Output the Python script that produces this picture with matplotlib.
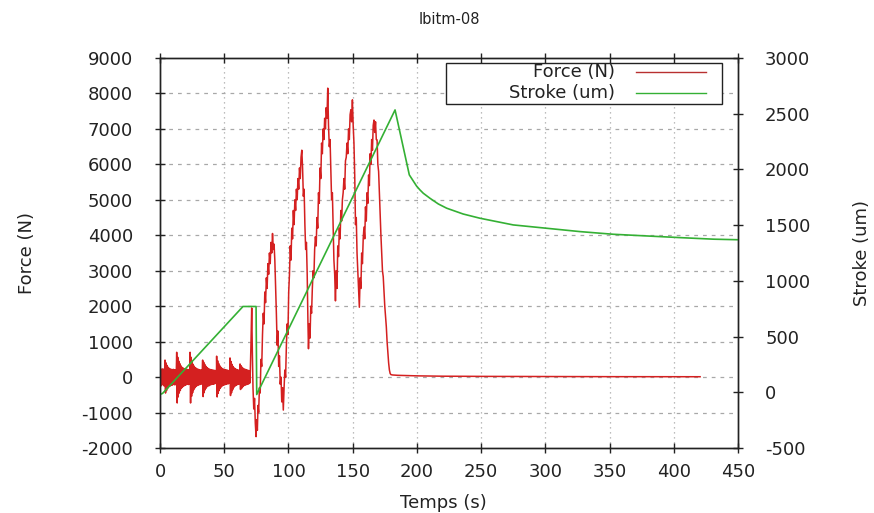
import matplotlib
matplotlib.use("Agg")
import matplotlib.pyplot as plt
from matplotlib.lines import Line2D
from matplotlib.patches import Rectangle

plt.rcParams['font.family'] = ['DejaVu Sans']
plt.rcParams['axes.unicode_minus'] = False

title = "lbitm-08"
x_label = "Temps (s)"
y_label = "Force (N)"
y2_label = "Stroke (um)"
force_name = "Force (N)"
stroke_name = "Stroke (um)"

x_ticks = [0, 50, 100, 150, 200, 250, 300, 350, 400, 450]
force_ticks = [-2000, -1000, 0, 1000, 2000, 3000, 4000, 5000, 6000, 7000, 8000, 9000]
stroke_ticks = [-500, 0, 500, 1000, 1500, 2000, 2500, 3000]

force_pts = [
    (0, -150), (0.4, 250), (0.8, -250), (1.2, 200), (1.6, -220), (2, 230), (2.4, -200), (2.8, 220), (3.2, -250), (3.6, 200),
    (3.9, 480), (4.3, -450), (4.7, 400), (5.1, -380), (5.5, 330), (5.9, -320), (6.3, 280), (6.7, -280),
    (7.1, 250), (7.5, -260), (7.9, 230), (8.3, -240), (8.7, 220), (9.1, -230), (9.5, 210), (9.9, -220),
    (10.3, 220), (10.7, -200), (11.1, 210), (11.5, -220), (11.9, 200), (12.3, -210), (12.7, 180),
    (13, 700), (13.4, -730), (13.8, 560), (14.2, -560), (14.6, 450), (15, -450), (15.4, 380), (15.8, -380),
    (16.2, 320), (16.6, -320), (17, 280), (17.4, -290), (17.8, 260), (18.2, -260), (18.6, 240), (19, -240),
    (19.4, 230), (19.8, -230), (20.2, 220), (20.6, -210), (21, 220), (21.4, -200), (21.8, 210), (22.2, -210),
    (22.6, 200), (23, -190),
    (23.4, 700), (23.8, -730), (24.2, 560), (24.6, -540), (25, 440), (25.4, -440), (25.8, 360), (26.2, -360),
    (26.6, 310), (27, -310), (27.4, 270), (27.8, -270), (28.2, 250), (28.6, -250), (29, 230), (29.4, -230),
    (29.8, 220), (30.2, -220), (30.6, 210), (31, -210), (31.4, 200), (31.8, -200), (32.2, 200), (32.6, -190),
    (32.9, 150),
    (33.2, 480), (33.6, -550), (34, 420), (34.4, -440), (34.8, 360), (35.2, -360), (35.6, 310), (36, -310),
    (36.4, 270), (36.8, -270), (37.2, 250), (37.6, -250), (38, 230), (38.4, -240), (38.8, 220), (39.2, -220),
    (39.6, 210), (40, -210), (40.4, 200), (40.8, -200), (41.2, 200), (41.6, -200), (42, 190), (42.4, -190),
    (42.8, 190), (43.2, -180), (43.6, 180), (43.9, -170),
    (44.1, 590), (44.5, -560), (44.9, 460), (45.3, -460), (45.7, 380), (46.1, -380), (46.5, 320), (46.9, -320),
    (47.3, 280), (47.7, -280), (48.1, 250), (48.5, -250), (48.9, 230), (49.3, -230), (49.7, 220), (50.1, -220),
    (50.5, 210), (50.9, -210), (51.3, 200), (51.7, -200), (52.1, 200), (52.5, -190), (52.9, 190), (53.3, -190),
    (53.7, 180), (54.1, -170),
    (54.5, 540), (54.9, -520), (55.3, 440), (55.7, -440), (56.1, 360), (56.5, -360), (56.9, 300), (57.3, -300),
    (57.7, 260), (58.1, -260), (58.5, 240), (58.9, -240), (59.3, 220), (59.7, -220), (60.1, 210), (60.5, -210),
    (60.9, 200), (61.3, -200), (61.7, 190), (62, -180),
    (62.3, 370), (62.7, -350), (63.1, 320), (63.5, -320), (63.9, 280), (64.3, -280), (64.7, 250), (65.1, -250),
    (65.5, 230), (65.9, -230), (66.3, 220), (66.7, -220), (67.1, 210), (67.5, -210), (67.9, 200), (68.3, -200),
    (68.7, 190), (69.1, -190), (69.5, 180), (69.9, -170), (70.3, 150),
    (70.8, 900), (71.4, 1950), (71.9, 700), (72.4, -300), (73, -900), (73.6, -600), (74.2, -1300), (74.8, -1680),
    (75.3, -1200), (75.8, -1500), (76.3, -800), (76.8, -1000), (77.4, -300), (78, -450), (78.6, 500), (79.2, 300),
    (79.8, 1200), (80.4, 1800), (81, 1500), (81.6, 2400), (82.2, 2100), (82.8, 2800), (83.4, 2500), (84, 3200),
    (84.6, 2900), (85.2, 3500), (85.8, 3200), (86.4, 3800), (87, 3500), (87.6, 4050), (88.2, 3600), (88.8, 3750),
    (89.4, 3300), (90, 2600), (90.6, 1800), (91.2, 900), (91.8, 1300), (92.4, 300), (93, 600), (93.6, -200),
    (94.2, 0), (94.8, -700), (95.4, -300), (96, -930), (96.6, -300), (97.2, 200), (97.8, 0), (98.4, 900),
    (99, 1500), (99.6, 1200), (100.2, 2400), (100.8, 2900), (101.4, 3700), (102, 3300), (102.6, 4200), (103.2, 3900),
    (103.8, 4700), (104.4, 4300), (105, 5000), (105.6, 4700), (106.2, 5300), (106.8, 5000), (107.4, 5600), (108, 5300),
    (108.6, 5900), (109.2, 5600), (109.8, 6200), (110.4, 6400), (111, 5900), (111.6, 5100), (112.2, 5300), (112.8, 4300),
    (113.4, 3600), (114, 3800), (114.6, 2900), (115.2, 1500), (115.6, 800), (116.2, 1500), (116.8, 1100), (117.4, 2000),
    (118, 1800), (118.6, 2500), (119.2, 3000), (119.8, 2800), (120.4, 3600), (121, 3960), (121.6, 3700), (122.2, 4500),
    (122.8, 4200), (123.4, 5200), (124, 4900), (124.6, 5900), (125.2, 5600), (125.8, 6600), (126.4, 6300), (127, 7000),
    (127.6, 6700), (128.2, 7300), (128.8, 7000), (129.4, 7600), (130, 7300), (130.6, 8150), (131.2, 7100), (131.8, 6500),
    (132.4, 6700), (133, 5800), (133.6, 5000), (134.2, 5200), (134.8, 4200), (135.4, 3300), (136, 2900), (136.6, 2150),
    (137.2, 3000), (137.8, 2500), (138.4, 3700), (139, 3400), (139.6, 4200), (140.2, 3900), (140.8, 4700), (141.4, 4400),
    (142, 5000), (142.6, 5200), (143.2, 5600), (143.8, 5300), (144.4, 6100), (145, 6200), (145.6, 6600), (146.2, 6300),
    (146.8, 7000), (147.4, 6700), (148, 7400), (148.6, 7540), (149.2, 7200), (149.8, 7820), (150.4, 7100), (151, 6600),
    (151.6, 5700), (152.2, 4300), (152.8, 4500), (153.4, 3500), (154, 3000), (154.6, 2500), (155.2, 1970), (155.8, 2800),
    (156.4, 2500), (157, 3500), (157.6, 3200), (158.2, 3900), (158.8, 4230), (159.4, 3900), (160, 4800), (160.6, 4400),
    (161.2, 5200), (161.8, 4900), (162.4, 5700), (163, 5400), (163.6, 6300), (164.2, 6000), (164.8, 6700), (165.4, 6400),
    (166, 7100), (166.6, 7250), (167.2, 6900), (167.8, 7200), (168.4, 6700), (169, 6690), (169.6, 6000), (170.2, 5800),
    (170.8, 5200), (171.4, 4600), (172, 4000), (172.6, 3500), (173.2, 3000), (173.8, 2830), (174.4, 2400), (175, 2000),
    (175.6, 1700), (176.2, 1420), (176.8, 1000), (177.4, 700), (178, 400), (178.6, 200), (179.2, 100), (179.8, 70),
    (181, 60), (185, 50), (190, 45), (200, 35), (220, 25), (250, 20), (300, 15), (350, 12), (400, 10), (420.5, 10),
]
force_time = [p[0] for p in force_pts]
force_values = [p[1] for p in force_pts]

stroke_time = [0, 2, 64.6, 74.8, 75.3, 183, 194.1, 199.8, 202.4, 205, 210.2, 216.7, 223.2, 236, 249.1,
               275, 301, 327, 353, 379, 405, 431, 450]
stroke_values = [-20, -10, 770, 770, -20, 2534, 1951, 1850, 1816, 1786, 1741, 1690, 1652, 1600, 1562,
                 1502, 1472, 1442, 1418, 1403, 1388, 1374, 1369]

red = '#d42020'
green = '#34b034'
fs = 13

fig = plt.figure(figsize=(8.74, 5.13), dpi=100)
ax = fig.add_axes([160 / 874, 1 - 448 / 513, 578 / 874, 390 / 513])
ax2 = ax.twinx()

ax.plot(force_time, force_values, color=red, lw=1.1)
ax2.plot(stroke_time, stroke_values, color=green, lw=1.2)

ax.set_xlim(0, 450)
ax.set_ylim(-2000, 9000)
ax2.set_ylim(-500, 3000)
ax.set_xticks(x_ticks)
ax.set_yticks(force_ticks)
ax2.set_yticks(stroke_ticks)

gcol = '#a8a8a8'
for xt in x_ticks[1:-1]:
    ax.axvline(xt, color=gcol, lw=0.9, ls=(0, (1, 3)), zorder=0)
for yt in force_ticks[1:-1]:
    ax.axhline(yt, color=gcol, lw=0.9, ls=(0, (3, 4)), zorder=0)

for a in (ax, ax2):
    for s in a.spines.values():
        s.set_linewidth(1.0)
        s.set_color('#222222')

ax.tick_params(axis='x', direction='inout', length=7, width=1, labelsize=fs, pad=7,
               top=True, colors='#222222', labelcolor='#222222')
ax.tick_params(axis='y', direction='inout', length=7, width=1, labelsize=fs, pad=16,
               right=False, colors='#222222', labelcolor='#222222')
ax2.tick_params(axis='y', direction='inout', length=7, width=1, labelsize=fs, pad=16,
                colors='#222222', labelcolor='#222222')

fig.text(449 / 874, 1 - 20 / 513, title, ha='center', va='center', fontsize=10.5, color='#222222')
fig.text(443 / 874, 1 - 503 / 513, x_label, ha='center', va='center', fontsize=fs, color='#222222')
fig.text(27 / 874, 1 - 253 / 513, y_label, ha='center', va='center', rotation=90, fontsize=fs, color='#222222')
fig.text(862 / 874, 1 - 253 / 513, y2_label, ha='center', va='center', rotation=90, fontsize=fs, color='#222222')

# legend box (gnuplot style: right-aligned text followed by line sample)
fig.patches.append(Rectangle((446 / 874, 1 - 104 / 513), 276 / 874, 41 / 513,
                             transform=fig.transFigure, facecolor='white',
                             edgecolor='#222222', lw=1.0, zorder=5))
for yy, name, col in [(72, force_name, '#b83030'), (93, stroke_name, green)]:
    fig.text(615 / 874, 1 - yy / 513, name, ha='right', va='center', fontsize=fs,
             color='#222222', zorder=6)
    fig.lines.append(Line2D([636 / 874, 706 / 874], [1 - yy / 513, 1 - yy / 513],
                            transform=fig.transFigure, color=col, lw=1.0, zorder=6))

fig.savefig('out.png', dpi=100)
